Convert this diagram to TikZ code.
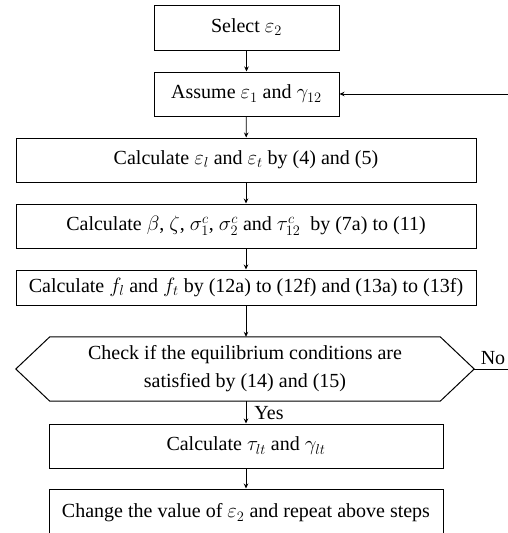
\documentclass[tikz,border=0pt]{standalone}
\usepackage{fontspec}
\setmainfont{Liberation Serif}
\usetikzlibrary{arrows.meta,calc}
\begin{document}
\begin{tikzpicture}[x=1pt,y=-1pt,
  box/.style={draw,line width=1pt,minimum height=44pt,inner sep=0pt,font=\fontsize{20}{24}\selectfont},
  arr/.style={line width=0.8pt,-{Stealth[length=5pt,width=4.5pt]}},
  lbl/.style={inner sep=0pt,font=\fontsize{20}{24}\selectfont}]
\useasboundingbox (0,0) rectangle (507,533);
\node[box,minimum width=185pt,minimum height=45pt] (sel) at (246.5,27.5) {Select $\varepsilon_2$};
\node[box,minimum width=185pt] (ass) at (246.5,94) {Assume $\varepsilon_1$ and $\gamma_{12}$};
\node[box,minimum width=460pt] (c1) at (246,160) {Calculate $\varepsilon_l$ and $\varepsilon_t$ by (4) and (5)};
\node[box,minimum width=460pt] (c2) at (246,226) {Calculate $\beta$, $\zeta$, $\sigma_1^c$, $\sigma_2^c$ and $\tau_{12}^c$\ \ by (7a) to (11)};
\node[box,minimum width=460pt,minimum height=35pt] (c3) at (246,287.5) {Calculate $f_l$ and $f_t$ by (12a) to (12f) and (13a) to (13f)};
\node[minimum width=458pt,minimum height=64pt,inner sep=0pt,align=center,font=\fontsize{20}{28}\selectfont] (hex) at (245,369) {Check if the equilibrium conditions are\\satisfied by (14) and (15)};
\draw[line width=1pt] (hex.west) -- ($(hex.north west)+(34,0)$) -- ($(hex.north east)+(-34,0)$) -- (hex.east) -- ($(hex.south east)+(-34,0)$) -- ($(hex.south west)+(34,0)$) -- cycle;
\node[box,minimum width=394pt] (c4) at (246,446) {Calculate $\tau_{lt}$ and $\gamma_{lt}$};
\node[box,minimum width=394pt,minimum height=48pt] (c5) at (246,513) {Change the value of $\varepsilon_2$ and repeat above steps};
\draw[arr] (sel) -- (ass);
\draw[arr] (ass) -- (c1);
\draw[arr] (c1) -- (c2);
\draw[arr] (c2) -- (c3);
\draw[arr] (c3.south) -- (c3.south |- hex.north);
\draw[arr] (c4.north |- hex.south) -- (c4.north);
\draw[arr] (c4) -- (c5);
\draw[arr] (hex.east) -- ++(45,0) |- (ass.east);
\node[lbl] (no) at (493,358) {No};
\node[lbl] (yes) at (269,413) {Yes};
\end{tikzpicture}
\end{document}
